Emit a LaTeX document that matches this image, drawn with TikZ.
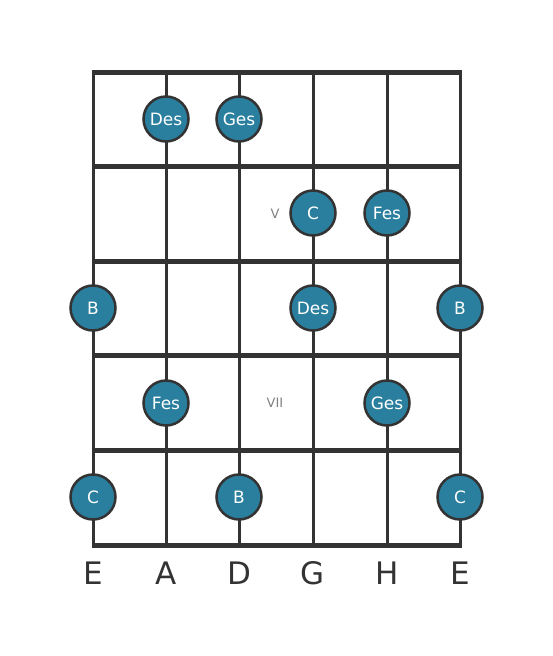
\documentclass[tikz,border=0pt]{standalone}
\usepackage{fontspec}
\setmainfont{DejaVu Sans}
\usetikzlibrary{positioning}
\usetikzlibrary{calc}
\definecolor{notefill}{HTML}{2A7F9E}
\definecolor{gridline}{HTML}{333333}
\tikzset{note/.style = {circle, fill=notefill, draw=gridline, line width=2.5,
                        minimum size=45, inner sep=0, text=white,
                        font=\fontsize{17}{17}\selectfont}}
\tikzset{fretno/.style = {text=gray, font=\fontsize{13}{13}\selectfont}}
\tikzset{strname/.style = {text=gridline, font=\fontsize{31}{31}\selectfont}}

\begin{document}
\begin{tikzpicture}[x=1pt, y=-1pt]
      \useasboundingbox (0,0) rectangle (553,656);

      \foreach \x [count=\i] in {93,166,239,313,387,460} {
        \coordinate (top\i) at (\x, 72);
        \coordinate (bot\i) at (\x, 545);
        \draw [gridline, line width=3] (top\i) -- (bot\i);
      }
      \foreach \y [count=\j] in {72,166,261,355,450,545} {
        \coordinate (left\j) at (91.5, \y);
        \coordinate (right\j) at (461.5, \y);
        \draw [gridline, line width=5] (left\j) -- (right\j);
      }

      \node [fretno] (fretV) at (275, 214) {V};
      \node [fretno] (fretVII) at (275, 403) {VII};

      \node [note] (des1) at (166, 119) {Des};
      \node [note] (ges1) at (239, 119) {Ges};
      \node [note] (c1) at (313, 213) {C};
      \node [note] (fes1) at (387, 213) {Fes};
      \node [note] (b1) at (93, 308) {B};
      \node [note] (des2) at (313, 308) {Des};
      \node [note] (b2) at (460, 308) {B};
      \node [note] (fes2) at (166, 403) {Fes};
      \node [note] (ges2) at (387, 403) {Ges};
      \node [note] (c2) at (93, 497) {C};
      \node [note] (b3) at (239, 497) {B};
      \node [note] (c3) at (460, 497) {C};

      \foreach \s/\n [count=\i] in {E/lowE, A/A, D/D, G/G, H/H, E/highE}
        \node [strname] (str\n) at ($(bot\i) + (0, 28)$) {\s};
    \end{tikzpicture}
\end{document}
